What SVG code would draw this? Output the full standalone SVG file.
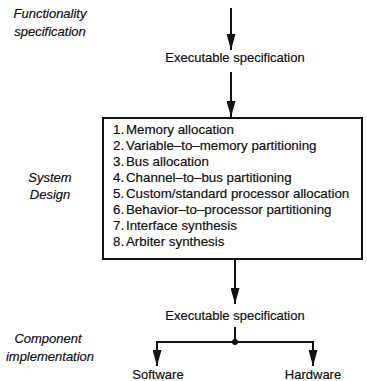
<svg xmlns="http://www.w3.org/2000/svg" width="367" height="381" viewBox="0 0 367 381">
<defs>
<style>
text{font-family:"Liberation Sans",Arial,sans-serif;fill:#111;font-size:13px;stroke:#111;stroke-width:0.2;}
.i{font-style:italic;text-anchor:middle;}
.c{text-anchor:middle;}
.b{font-size:13.3px;}
.ln{stroke:#111;stroke-width:2;fill:none;}
</style>
<marker id="ah" markerUnits="userSpaceOnUse" markerWidth="16" markerHeight="9" refX="16" refY="4.5" viewBox="0 0 16 9" orient="auto">
<path d="M0,0 L16,4.5 L0,9 Z" fill="#111"/>
</marker>
</defs>
<g id="labels">
<text class="i" x="50" y="18">Functionality</text>
<text class="i" x="50" y="36">specification</text>
<text class="i" x="50" y="182">System</text>
<text class="i" x="50" y="199">Design</text>
<text class="i" x="48" y="343">Component</text>
<text class="i" x="50" y="361">implementation</text>
</g>
<g id="connectors">
<line class="ln" x1="231" y1="8" x2="231" y2="50" marker-end="url(#ah)"/>
<line class="ln" x1="231" y1="72" x2="231" y2="117" marker-end="url(#ah)"/>
<line class="ln" x1="235" y1="259" x2="235" y2="304" marker-end="url(#ah)"/>
<line class="ln" x1="235" y1="327" x2="235" y2="342"/>
<polyline class="ln" points="157,352 157,342 313,342 313,352"/>
<line class="ln" x1="157" y1="345" x2="157" y2="366" marker-end="url(#ah)"/>
<line class="ln" x1="313" y1="345" x2="313" y2="366" marker-end="url(#ah)"/>
<circle cx="235" cy="342" r="3" fill="#111"/>
</g>
<g id="spec1"><text class="c" x="235" y="62">Executable specification</text></g>
<g id="system-design">
<rect class="ln" x="103" y="118" width="259" height="141"/>
<text class="b" x="113" y="134">1.<tspan x="126">Memory allocation</tspan></text>
<text class="b" x="113" y="150">2.<tspan x="126">Variable–to–memory partitioning</tspan></text>
<text class="b" x="113" y="166">3.<tspan x="126">Bus allocation</tspan></text>
<text class="b" x="113" y="182">4.<tspan x="126">Channel–to–bus partitioning</tspan></text>
<text class="b" x="113" y="198">5.<tspan x="126">Custom/standard processor allocation</tspan></text>
<text class="b" x="113" y="214">6.<tspan x="126">Behavior–to–processor  partitioning</tspan></text>
<text class="b" x="113" y="230">7.<tspan x="126">Interface synthesis</tspan></text>
<text class="b" x="113" y="246">8.<tspan x="126">Arbiter synthesis</tspan></text>
</g>
<g id="spec2"><text class="c" x="235" y="320">Executable specification</text></g>
<g id="software"><text class="c" x="158" y="379">Software</text></g>
<g id="hardware"><text class="c" x="313" y="379">Hardware</text></g>
</svg>
